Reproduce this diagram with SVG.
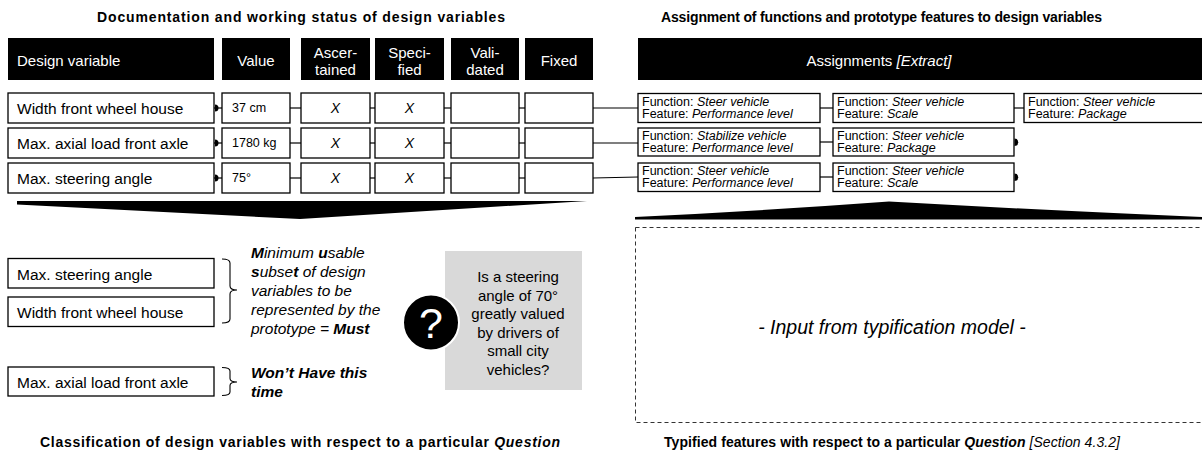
<svg xmlns="http://www.w3.org/2000/svg" width="1202" height="456" viewBox="0 0 1202 456">
<style>
text{font-family:"Liberation Sans",Arial,sans-serif;fill:#000}
.title{font-size:14px;font-weight:bold}
.hdr{fill:#000}
.ht{font-size:15px;fill:#fff}
.box{fill:#fff;stroke:#000;stroke-width:1.3}
.var{font-size:15.5px}
.val{font-size:12.5px}
.x{font-size:14px;font-style:italic}
.fn{font-size:12.5px}
.it{font-style:italic}
.b{font-weight:bold}
.con line{stroke:#000;stroke-width:1.2}
.dot{fill:#000}
.brace{fill:none;stroke:#000;stroke-width:1.1}
.bt{font-size:15.5px;font-style:italic}
.qt{font-size:15px}
</style>

<!-- Titles -->
<g id="titles">
<text class="title" x="97" y="22" textLength="408" lengthAdjust="spacing">Documentation and working status of design variables</text>
<text class="title" x="661" y="22" textLength="441" lengthAdjust="spacing">Assignment of functions and prototype features to design variables</text>
<text class="title" x="40" y="447" textLength="520" lengthAdjust="spacing">Classification of design variables with respect to a particular <tspan class="it">Question</tspan></text>
<text class="title" x="664" y="447" textLength="456" lengthAdjust="spacing">Typified features with respect to a particular <tspan class="it">Question</tspan> <tspan class="it" font-weight="normal">[Section 4.3.2]</tspan></text>
</g>

<!-- Header -->
<g id="header">
<rect class="hdr" x="8" y="38" width="206" height="42"/>
<text class="ht" x="17" y="66">Design variable</text>
<rect class="hdr" x="222" y="38" width="68" height="42"/>
<text class="ht" x="256" y="66" text-anchor="middle">Value</text>
<rect class="hdr" x="301" y="38" width="69" height="42"/>
<text class="ht" x="335.5" y="58" text-anchor="middle">Ascer-</text>
<text class="ht" x="335.5" y="75" text-anchor="middle">tained</text>
<rect class="hdr" x="375" y="38" width="69" height="42"/>
<text class="ht" x="409.5" y="58" text-anchor="middle">Speci-</text>
<text class="ht" x="409.5" y="75" text-anchor="middle">fied</text>
<rect class="hdr" x="451" y="38" width="68" height="42"/>
<text class="ht" x="485" y="58" text-anchor="middle">Vali-</text>
<text class="ht" x="485" y="75" text-anchor="middle">dated</text>
<rect class="hdr" x="525" y="38" width="68" height="42"/>
<text class="ht" x="559" y="66" text-anchor="middle">Fixed</text>
<rect class="hdr" x="638" y="38" width="564" height="42"/>
<text class="ht" x="879" y="66" text-anchor="middle" font-size="14">Assignments <tspan class="it">[Extract]</tspan></text>
</g>

<!-- Connectors -->
<g id="connectors" class="con">
<line x1="214" y1="108" x2="222" y2="108"/>
<line x1="214" y1="143" x2="222" y2="143"/>
<line x1="214" y1="178" x2="222" y2="178"/>
<line x1="290" y1="108" x2="301" y2="108"/>
<line x1="290" y1="143" x2="301" y2="143"/>
<line x1="290" y1="178" x2="301" y2="178"/>
<line x1="370" y1="108" x2="375" y2="108"/>
<line x1="370" y1="143" x2="375" y2="143"/>
<line x1="370" y1="178" x2="375" y2="178"/>
<line x1="444" y1="108" x2="451" y2="108"/>
<line x1="444" y1="143" x2="451" y2="143"/>
<line x1="444" y1="178" x2="451" y2="178"/>
<line x1="519" y1="108" x2="525" y2="108"/>
<line x1="519" y1="143" x2="525" y2="143"/>
<line x1="519" y1="178" x2="525" y2="178"/>
<line x1="593" y1="108" x2="638" y2="108"/>
<line x1="593" y1="143" x2="638" y2="143"/>
<line x1="593" y1="178" x2="638" y2="177"/>
<line x1="820" y1="108" x2="833" y2="108"/>
<line x1="820" y1="142" x2="833" y2="142"/>
<line x1="820" y1="177" x2="833" y2="177"/>
<line x1="1014" y1="108" x2="1024" y2="108"/>
<path class="dot" d="M215,104.5 A3.5,3.5 0 0 1 215,111.5 Z"/>
<path class="dot" d="M215,139.5 A3.5,3.5 0 0 1 215,146.5 Z"/>
<path class="dot" d="M215,174.5 A3.5,3.5 0 0 1 215,181.5 Z"/>
<path class="dot" d="M1014.5,138.5 A3.7,3.7 0 0 1 1014.5,145.9 Z"/>
<path class="dot" d="M1014.5,173.5 A3.7,3.7 0 0 1 1014.5,180.9 Z"/>
</g>

<!-- Row 1 -->
<g id="row1">
<rect class="box" x="8" y="93" width="206" height="30"/>
<text class="var" x="17" y="114">Width front wheel house</text>
<rect class="box" x="222" y="93" width="68" height="30"/>
<text class="val" x="232" y="112">37 cm</text>
<rect class="box" x="301" y="93" width="69" height="30"/>
<text class="x" x="335.5" y="113" text-anchor="middle">X</text>
<rect class="box" x="375" y="93" width="69" height="30"/>
<text class="x" x="409.5" y="113" text-anchor="middle">X</text>
<rect class="box" x="451" y="93" width="68" height="30"/>
<rect class="box" x="525" y="93" width="68" height="30"/>
</g>
<!-- Row 2 -->
<g id="row2">
<rect class="box" x="8" y="128" width="206" height="30"/>
<text class="var" x="17" y="149">Max. axial load front axle</text>
<rect class="box" x="222" y="128" width="68" height="30"/>
<text class="val" x="232" y="147">1780 kg</text>
<rect class="box" x="301" y="128" width="69" height="30"/>
<text class="x" x="335.5" y="148" text-anchor="middle">X</text>
<rect class="box" x="375" y="128" width="69" height="30"/>
<text class="x" x="409.5" y="148" text-anchor="middle">X</text>
<rect class="box" x="451" y="128" width="68" height="30"/>
<rect class="box" x="525" y="128" width="68" height="30"/>
</g>
<!-- Row 3 -->
<g id="row3">
<rect class="box" x="8" y="163" width="206" height="30"/>
<text class="var" x="17" y="184">Max. steering angle</text>
<rect class="box" x="222" y="163" width="68" height="30"/>
<text class="val" x="232" y="182">75°</text>
<rect class="box" x="301" y="163" width="69" height="30"/>
<text class="x" x="335.5" y="183" text-anchor="middle">X</text>
<rect class="box" x="375" y="163" width="69" height="30"/>
<text class="x" x="409.5" y="183" text-anchor="middle">X</text>
<rect class="box" x="451" y="163" width="68" height="30"/>
<rect class="box" x="525" y="163" width="68" height="30"/>
</g>

<!-- Assignments -->
<g id="assign1">
<rect class="box" x="638" y="93.5" width="182" height="29"/>
<text class="fn" x="642" y="105.5">Function: <tspan class="it">Steer vehicle</tspan></text>
<text class="fn" x="642" y="117.5">Feature: <tspan class="it">Performance level</tspan></text>
<rect class="box" x="833" y="93.5" width="181" height="29"/>
<text class="fn" x="837" y="105.5">Function: <tspan class="it">Steer vehicle</tspan></text>
<text class="fn" x="837" y="117.5">Feature: <tspan class="it">Scale</tspan></text>
<rect class="box" x="1024" y="93.5" width="190" height="29"/>
<text class="fn" x="1028" y="105.5">Function: <tspan class="it">Steer vehicle</tspan></text>
<text class="fn" x="1028" y="117.5">Feature: <tspan class="it">Package</tspan></text>
</g>
<g id="assign2">
<rect class="box" x="638" y="128" width="182" height="28"/>
<text class="fn" x="642" y="140">Function: <tspan class="it">Stabilize vehicle</tspan></text>
<text class="fn" x="642" y="152">Feature: <tspan class="it">Performance level</tspan></text>
<rect class="box" x="833" y="128" width="181" height="28"/>
<text class="fn" x="837" y="140">Function: <tspan class="it">Steer vehicle</tspan></text>
<text class="fn" x="837" y="152">Feature: <tspan class="it">Package</tspan></text>
</g>
<g id="assign3">
<rect class="box" x="638" y="163" width="182" height="28.5"/>
<text class="fn" x="642" y="175">Function: <tspan class="it">Steer vehicle</tspan></text>
<text class="fn" x="642" y="187">Feature: <tspan class="it">Performance level</tspan></text>
<rect class="box" x="833" y="163" width="181" height="28.5"/>
<text class="fn" x="837" y="175">Function: <tspan class="it">Steer vehicle</tspan></text>
<text class="fn" x="837" y="187">Feature: <tspan class="it">Scale</tspan></text>
</g>

<!-- Wedges -->
<g id="wedges">
<path d="M17,201 L587,201 L300,219 L17,204.5 Z" fill="#000"/>
<path d="M635,219.5 L635,217 Q760,211 889,201.5 Q1040,210 1202,217 L1202,219.5 Z" fill="#000"/>
</g>

<!-- Classification -->
<g id="must">
<rect class="box" x="8" y="258.5" width="206" height="29.5"/>
<text class="var" x="17" y="280">Max. steering angle</text>
<rect class="box" x="8" y="297" width="206" height="29.5"/>
<text class="var" x="17" y="318">Width front wheel house</text>
<path class="brace" d="M222,259 Q230,259 230,263 L230,286 Q230,290 237,290 Q230,290 230,294 L230,319 Q230,323 222,323"/>
<text class="bt" x="251" y="258"><tspan class="b">M</tspan>inimum <tspan class="b">u</tspan>sable</text>
<text class="bt" x="251" y="277"><tspan class="b">s</tspan>ubse<tspan class="b">t</tspan> of design</text>
<text class="bt" x="251" y="296">variables to be</text>
<text class="bt" x="251" y="315">represented by the</text>
<text class="bt" x="251" y="334">prototype = <tspan class="b">Must</tspan></text>
</g>
<g id="wont">
<rect class="box" x="8" y="367" width="206" height="29"/>
<text class="var" x="17" y="387.5">Max. axial load front axle</text>
<path class="brace" d="M222,367.5 Q230,367.5 230,371 L230,378.5 Q230,382 237,382 Q230,382 230,385.5 L230,392 Q230,395.5 222,395.5"/>
<text class="bt b" x="251" y="378">Won’t Have this</text>
<text class="bt b" x="251" y="397">time</text>
</g>

<!-- Question -->
<g id="question">
<rect x="445" y="251" width="137" height="139" fill="#d9d9d9"/>
<text class="qt" text-anchor="middle" x="518" y="282">Is a steering</text>
<text class="qt" text-anchor="middle" x="518" y="300.5">angle of 70°</text>
<text class="qt" text-anchor="middle" x="518" y="319">greatly valued</text>
<text class="qt" text-anchor="middle" x="518" y="337.5">by drivers of</text>
<text class="qt" text-anchor="middle" x="518" y="356">small city</text>
<text class="qt" text-anchor="middle" x="518" y="374.5">vehicles?</text>
<circle cx="431" cy="322.5" r="28" fill="#000" stroke="#fff" stroke-width="2"/>
<text x="431" y="338" text-anchor="middle" font-size="43" style="fill:#fff">?</text>
</g>

<!-- Typification -->
<g id="typification">
<rect x="635.5" y="227.5" width="570" height="195" fill="none" stroke="#333" stroke-width="1" stroke-dasharray="4,3"/>
<text x="892" y="334" text-anchor="middle" font-size="19.5" font-style="italic">- Input from typification model -</text>
</g>
</svg>
